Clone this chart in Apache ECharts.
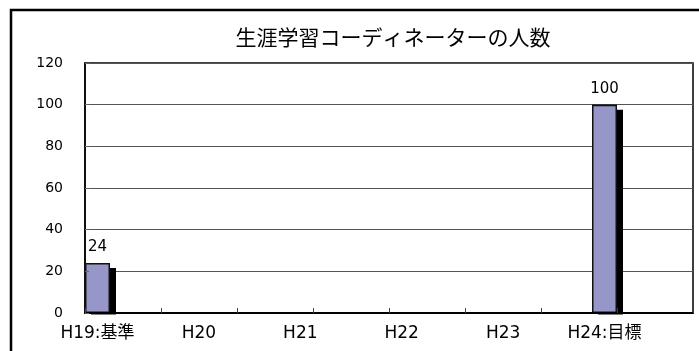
<!DOCTYPE html>
<html>
<head>
<meta charset="utf-8">
<script src="https://cdn.jsdelivr.net/npm/echarts@6/dist/echarts.min.js"></script>
<style>
  html, body { margin: 0; padding: 0; background: #fff; }
  #chart { width: 699px; height: 351px; }
</style>
</head>
<body>
<div id="chart"></div>
<script>
// 生涯学習コーディネーターの人数（H19基準・H24目標）
const titleText = '生涯学習コーディネーターの人数';
const categories = ['H19:基準', 'H20', 'H21', 'H22', 'H23', 'H24:目標'];
const counts = [24, null, null, null, null, 100];
const yMin = 0, yMax = 120, yStep = 20;
const frameTickCount = 8;   // tick marks along the bottom edge of the frame

const FONT = '"DejaVu Sans", "Noto Sans CJK JP", sans-serif';
const JP_FONT = '"Noto Sans CJK JP", sans-serif';

const chart = echarts.init(document.getElementById('chart'), null, { renderer: 'canvas' });

chart.setOption({
  animation: false,
  backgroundColor: '#ffffff',
  title: {
    text: titleText,
    left: 388,
    textAlign: 'center',
    top: 22,
    textStyle: { fontFamily: JP_FONT, fontSize: 21, fontWeight: 'normal', color: '#000' }
  },
  graphic: [
    { // outer chart border
      type: 'rect',
      shape: { x: 11, y: 10, width: 720, height: 400 },
      style: { fill: 'none', stroke: '#000', lineWidth: 2.5 },
      silent: true,
      z: 10
    },
    { // keeps the bar shadows from spilling under the baseline
      type: 'rect',
      shape: { x: 80, y: 314.5, width: 620, height: 8 },
      style: { fill: '#fff' },
      silent: true,
      z: 3
    }
  ],
  grid: [
    { // frame with gridlines
      left: 85, top: 63, width: 608, height: 250,
      show: true, borderColor: '#000', borderWidth: 1.5, backgroundColor: 'transparent'
    },
    { // category slots holding the bars
      left: 46.8, top: 63, width: 608.4, height: 250
    }
  ],
  xAxis: [
    {
      gridIndex: 0, type: 'value', min: 0, max: frameTickCount, interval: 1,
      z: 5,
      axisLine: { show: true, lineStyle: { color: '#000', width: 2 } },
      axisTick: { show: true, inside: true, length: 5, lineStyle: { color: '#444', width: 1 } },
      axisLabel: { show: false },
      splitLine: { show: false }
    },
    {
      gridIndex: 1, type: 'category', data: categories,
      axisLine: { show: false },
      axisTick: { show: false },
      axisLabel: {
        show: true, interval: 0, margin: 12,
        fontFamily: FONT, fontSize: 17, color: '#000'
      }
    }
  ],
  yAxis: [
    {
      gridIndex: 0, type: 'value', min: yMin, max: yMax, interval: yStep,
      axisLine: { show: true, lineStyle: { color: '#000', width: 1.5 } },
      axisTick: { show: false },
      axisLabel: { margin: 22, fontFamily: FONT, fontSize: 14, color: '#000' },
      splitLine: { show: true, lineStyle: { color: '#555', width: 1 } }
    },
    {
      gridIndex: 1, type: 'value', min: yMin, max: yMax, interval: yStep,
      show: false
    },
    { // short inner ticks drawn over the bars
      gridIndex: 0, type: 'value', min: yMin, max: yMax, interval: yStep,
      position: 'left', z: 5,
      axisLine: { show: false },
      axisTick: { show: true, inside: true, length: 4, lineStyle: { color: '#666', width: 1 } },
      axisLabel: { show: false },
      splitLine: { show: false }
    }
  ],
  series: [
    { // drop shadow underneath each bar
      type: 'bar',
      xAxisIndex: 1,
      yAxisIndex: 1,
      data: counts,
      barWidth: 25,
      silent: true,
      itemStyle: {
        color: '#000',
        shadowColor: '#000',
        shadowBlur: 0,
        shadowOffsetX: 6,
        shadowOffsetY: 5
      }
    },
    {
      type: 'bar',
      xAxisIndex: 1,
      yAxisIndex: 1,
      data: counts,
      barWidth: 25,
      barGap: '-100%',
      itemStyle: {
        color: '#9696C9',
        borderColor: '#111',
        borderWidth: 1.5
      },
      label: {
        show: true,
        position: 'top',
        distance: 8,
        fontFamily: FONT,
        fontSize: 15,
        color: '#000'
      }
    }
  ]
});
</script>
</body>
</html>
